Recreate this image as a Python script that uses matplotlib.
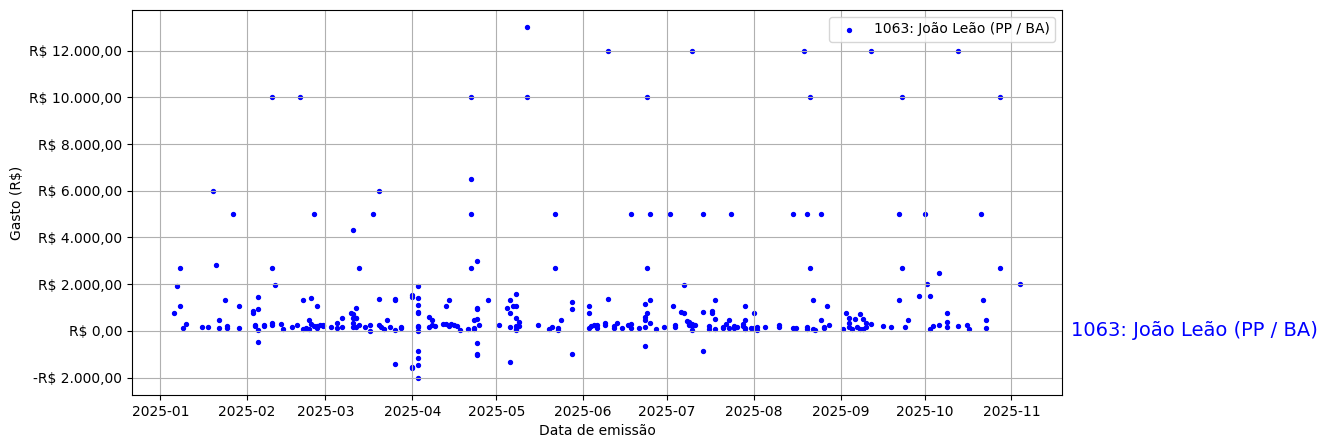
import pandas as pd
import matplotlib.pyplot as plt
import matplotlib.ticker as mticker

# Despesas do deputado (data de emissao, valor em R$)
datas_emissao = [
    "2025-01-06", "2025-01-08", "2025-01-07", "2025-01-08", "2025-01-09", "2025-01-10",
    "2025-01-16", "2025-01-18", "2025-01-20", "2025-01-21", "2025-01-22", "2025-01-22",
    "2025-01-24", "2025-01-25", "2025-01-25", "2025-01-27", "2025-01-29", "2025-01-29",
    "2025-02-03", "2025-02-03", "2025-02-04", "2025-02-04", "2025-02-05", "2025-02-05",
    "2025-02-05", "2025-02-05", "2025-02-07", "2025-02-07", "2025-02-10", "2025-02-10",
    "2025-02-11", "2025-02-10", "2025-02-10", "2025-02-13", "2025-02-14", "2025-02-17",
    "2025-02-19", "2025-02-20", "2025-02-21", "2025-02-21", "2025-02-22", "2025-02-23",
    "2025-02-23", "2025-02-24", "2025-02-24", "2025-02-25", "2025-02-25", "2025-02-26",
    "2025-02-26", "2025-02-26", "2025-02-27", "2025-02-28", "2025-02-28",
    "2025-03-03", "2025-03-05", "2025-03-05", "2025-03-07", "2025-03-07", "2025-03-10",
    "2025-03-11", "2025-03-11", "2025-03-11", "2025-03-11", "2025-03-11", "2025-03-12",
    "2025-03-12", "2025-03-12", "2025-03-12", "2025-03-13", "2025-03-13", "2025-03-15",
    "2025-03-17", "2025-03-17", "2025-03-18", "2025-03-20", "2025-03-20", "2025-03-20",
    "2025-03-21", "2025-03-22", "2025-03-23", "2025-03-24", "2025-03-26", "2025-03-26",
    "2025-03-26", "2025-03-26", "2025-03-28", "2025-03-28",
    "2025-04-01", "2025-04-01", "2025-04-01", "2025-04-01", "2025-04-03", "2025-04-03",
    "2025-04-03", "2025-04-03", "2025-04-03", "2025-04-03", "2025-04-03", "2025-04-03",
    "2025-04-03", "2025-04-03", "2025-04-03", "2025-04-03", "2025-04-07", "2025-04-07",
    "2025-04-08", "2025-04-08", "2025-04-09", "2025-04-12", "2025-04-13", "2025-04-13",
    "2025-04-14", "2025-04-14", "2025-04-15", "2025-04-16", "2025-04-17", "2025-04-18",
    "2025-04-21", "2025-04-22", "2025-04-22", "2025-04-22", "2025-04-22", "2025-04-23",
    "2025-04-23", "2025-04-23", "2025-04-24", "2025-04-24", "2025-04-24", "2025-04-24",
    "2025-04-24", "2025-04-24", "2025-04-24", "2025-04-25", "2025-04-28",
    "2025-05-02", "2025-05-05", "2025-05-06", "2025-05-06", "2025-05-06", "2025-05-06",
    "2025-05-07", "2025-05-08", "2025-05-08", "2025-05-08", "2025-05-08", "2025-05-08",
    "2025-05-08", "2025-05-09", "2025-05-09", "2025-05-12", "2025-05-12", "2025-05-16",
    "2025-05-20", "2025-05-21", "2025-05-22", "2025-05-22", "2025-05-23", "2025-05-23",
    "2025-05-24", "2025-05-28", "2025-05-28", "2025-05-28",
    "2025-06-03", "2025-06-03", "2025-06-03", "2025-06-04", "2025-06-05", "2025-06-06",
    "2025-06-06", "2025-06-09", "2025-06-09", "2025-06-10", "2025-06-10", "2025-06-12",
    "2025-06-12", "2025-06-13", "2025-06-15", "2025-06-17", "2025-06-18", "2025-06-18",
    "2025-06-18", "2025-06-21", "2025-06-23", "2025-06-23", "2025-06-23", "2025-06-23",
    "2025-06-23", "2025-06-24", "2025-06-24", "2025-06-24", "2025-06-25", "2025-06-25",
    "2025-06-25", "2025-06-27", "2025-06-30",
    "2025-07-02", "2025-07-03", "2025-07-04", "2025-07-04", "2025-07-06", "2025-07-07",
    "2025-07-07", "2025-07-08", "2025-07-09", "2025-07-09", "2025-07-09", "2025-07-10",
    "2025-07-10", "2025-07-10", "2025-07-10", "2025-07-11", "2025-07-14", "2025-07-14",
    "2025-07-14", "2025-07-16", "2025-07-16", "2025-07-17", "2025-07-17", "2025-07-18",
    "2025-07-18", "2025-07-18", "2025-07-21", "2025-07-21", "2025-07-22", "2025-07-23",
    "2025-07-23", "2025-07-24", "2025-07-25", "2025-07-25", "2025-07-26", "2025-07-28",
    "2025-07-28", "2025-07-29", "2025-07-29", "2025-07-29", "2025-07-29", "2025-07-31",
    "2025-08-01", "2025-08-01", "2025-08-02", "2025-08-02", "2025-08-05", "2025-08-10",
    "2025-08-10", "2025-08-15", "2025-08-15", "2025-08-16", "2025-08-19", "2025-08-20",
    "2025-08-20", "2025-08-20", "2025-08-21", "2025-08-21", "2025-08-22", "2025-08-22",
    "2025-08-23", "2025-08-25", "2025-08-25", "2025-08-26", "2025-08-26", "2025-08-27",
    "2025-08-28",
    "2025-09-02", "2025-09-03", "2025-09-04", "2025-09-04", "2025-09-04", "2025-09-05",
    "2025-09-06", "2025-09-07", "2025-09-08", "2025-09-08", "2025-09-09", "2025-09-09",
    "2025-09-10", "2025-09-10", "2025-09-12", "2025-09-12", "2025-09-16", "2025-09-19",
    "2025-09-22", "2025-09-22", "2025-09-23", "2025-09-23", "2025-09-24", "2025-09-25",
    "2025-09-29",
    "2025-10-01", "2025-10-02", "2025-10-03", "2025-10-03", "2025-10-04", "2025-10-06",
    "2025-10-06", "2025-10-09", "2025-10-09", "2025-10-09", "2025-10-13", "2025-10-13",
    "2025-10-16", "2025-10-17", "2025-10-21", "2025-10-22", "2025-10-23", "2025-10-23",
    "2025-10-28", "2025-10-28", "2025-11-04",
]
gastos = [
    760, 2690, 1930, 1070, 100, 300,
    170, 170, 6000, 2820, 470, 110,
    1330, 190, 100, 5000, 1070, 110,
    770, 840, 260, 190, 1470, 940,
    15, -490, 260, 190, 10000, 2690,
    1960, 330, 260, 300, 70, 160,
    260, 10000, 1320, 90, 110, 470,
    90, 1400, 300, 5000, 190, 1070,
    110, 210, 230, 260, 190,
    160, 100, 330, 540, 160, 760,
    4330, 730, 540, 330, 160, 540,
    970, 560, 160, 260, 2690, 160,
    10, 260, 5000, 6000, 1360, 260,
    160, 90, 470, 160, 1330, 1360,
    15, -1430, 160, 110,
    1520, 1470, -1550, -1590, 760, 800,
    1920, 1400, 1100, 210, 160, 0,
    -860, -1170, -1470, -2000, 590, 160,
    470, 260, 210, 300, 1070, 300,
    1330, 210, 300, 260, 210, 15,
    90, 10000, 6500, 5000, 2690, 470,
    110, 90, 2990, 970, 930, 500,
    -530, -1000, -1040, 260, 1320,
    260, 970, 760, 160, 1320, -1340,
    1070, 90, 15, 1070, 1590, 540,
    210, 370, 210, 13000, 10000, 240,
    90, 160, 5000, 2690, 110, 40,
    470, 1230, 930, -1000,
    110, 1070, 760, 210, 260, 240,
    110, 330, 260, 12000, 1360, 110,
    210, 330, 110, 260, 5000, 110,
    300, 110, 160, 470, -660, 1140,
    590, 10000, 2690, 760, 1320, 5000,
    330, 70, 160,
    5000, 1070, 260, 160, 800, 1970,
    760, 430, 370, 300, 260, 12000,
    40, 190, 300, 260, 5000, 800,
    -860, 210, 90, 830, 760, 1320,
    500, 70, 110, 160, 300, 110,
    470, 5000, 210, 110, 160, 210,
    300, 110, 1070, 470, 90, 110,
    760, 110, 160, 40, 160, 260,
    160, 5000, 110, 110, 12000, 5000,
    160, 70, 10000, 2690, 1320, 70,
    15, 5000, 470, 160, 110, 1070,
    260,
    90, 760, 540, 330, 160, 90,
    500, 160, 730, 90, 90, 500,
    330, 160, 12000, 300, 210, 160,
    5000, 1320, 10000, 2690, 160, 470,
    1500,
    5000, 2000, 1500, 70, 210, 2470,
    260, 760, 370, 160, 12000, 190,
    260, 90, 5000, 1320, 470, 110,
    10000, 2690, 2000,
]
rotulo = "1063: João Leão (PP / BA)"


def formata_real(v, pos):
    s = f"{abs(v):,.2f}".replace(",", "X").replace(".", ",").replace("X", ".")
    return f"-R$ {s}" if v < 0 else f"R$ {s}"


df = pd.DataFrame({"data": pd.to_datetime(datas_emissao), "gasto": gastos})

fig = plt.figure(figsize=(13.27, 4.48), dpi=100)
ax = fig.add_axes([0.0995, 0.1183, 0.7008, 0.8594])
ax.scatter(df["data"], df["gasto"], s=8, color="blue", label=rotulo)
ax.text(1.01, 0, rotulo, transform=ax.get_yaxis_transform(),
        color="blue", fontsize=14, va="center", ha="left")

ax.yaxis.set_major_formatter(mticker.FuncFormatter(formata_real))
ax.set_xlabel("Data de emissão")
ax.set_ylabel("Gasto (R$)")
ax.grid(True)
ax.legend(loc="upper right")

fig.savefig("out.png", dpi=100)
